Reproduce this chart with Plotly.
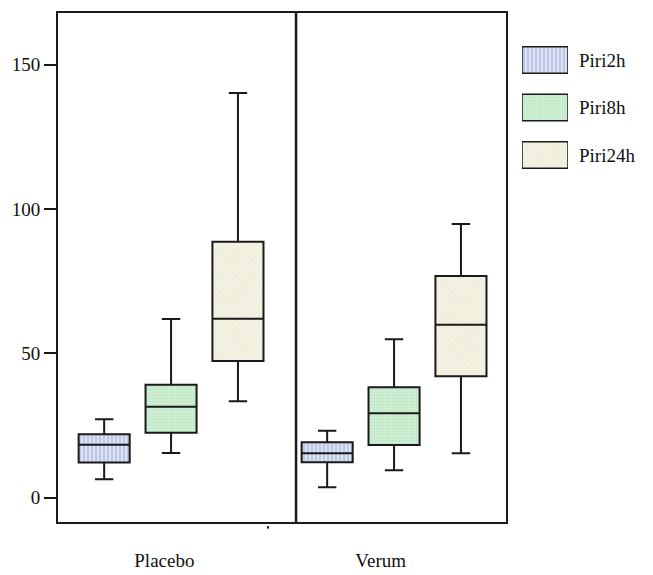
import plotly.graph_objects as go

groups = ["Placebo", "Verum"]
series = ["Piri2h", "Piri8h", "Piri24h"]

# five-number summaries per series: [Placebo, Verum]
lower = {"Piri2h": [6.4, 3.6], "Piri8h": [15.5, 9.5], "Piri24h": [33.4, 15.4]}
q1 = {"Piri2h": [12.2, 12.3], "Piri8h": [22.5, 18.3], "Piri24h": [47.4, 42.1]}
med = {"Piri2h": [18.4, 15.4], "Piri8h": [31.5, 29.3], "Piri24h": [62.0, 59.9]}
q3 = {"Piri2h": [22.0, 19.2], "Piri8h": [39.1, 38.3], "Piri24h": [88.7, 76.8]}
upper = {"Piri2h": [27.2, 23.2], "Piri8h": [61.9, 54.9], "Piri24h": [140.2, 94.8]}

y_ticks = [0, 50, 100, 150]

offsets = {"Piri2h": -0.3, "Piri8h": 0.0, "Piri24h": 0.3}
styles = {
    "Piri2h": dict(bg="#dfe4f4", fg="#9ba7d6", shape="|", size=4, solidity=0.55),
    "Piri8h": dict(bg="#d2f0d7", fg="#9ed6a8", shape=".", size=3, solidity=0.4),
    "Piri24h": dict(bg="#f4f2e3", fg="#e6e2cc", shape="/", size=4, solidity=0.3),
}
BW = 0.229
INK = "#1a1a1a"
FONT = "Liberation Serif"

fig = go.Figure()
gx = list(range(len(groups)))

for s in series:
    xs = [g + offsets[s] for g in gx]
    st = styles[s]
    fig.add_trace(go.Bar(
        x=xs, base=q1[s], y=[b - a for a, b in zip(q1[s], q3[s])], width=BW,
        marker=dict(color=st["bg"], line=dict(width=0),
                    pattern=dict(shape=st["shape"], fgcolor=st["fg"], bgcolor=st["bg"],
                                 size=st["size"], solidity=st["solidity"])),
        showlegend=False, hoverinfo="skip"))
    fig.add_trace(go.Box(
        x=xs, q1=q1[s], median=med[s], q3=q3[s],
        lowerfence=lower[s], upperfence=upper[s],
        width=BW, whiskerwidth=0.36, fillcolor="rgba(0,0,0,0)",
        line=dict(color=INK, width=2), name=s, showlegend=False, boxpoints=False))

# legend swatches drawn as bars in a small side subplot
for i, s in enumerate(series):
    st = styles[s]
    fig.add_trace(go.Bar(
        y=[i], x=[1], base=[0], orientation="h", width=0.56,
        marker=dict(color=st["bg"], line=dict(width=1.5, color=INK),
                    pattern=dict(shape=st["shape"], fgcolor=st["fg"], bgcolor=st["bg"],
                                 size=st["size"], solidity=st["solidity"])),
        xaxis="x2", yaxis="y2", showlegend=False, hoverinfo="skip"))
    fig.add_annotation(x=1.0, y=i, xref="x2", yref="y2", xanchor="left", xshift=9,
                       text=s, showarrow=False, font=dict(family=FONT, size=19, color="#111"))

W, H = 653, 575
L, R_px, T, B_px = 58, 506, 13, 522
plot_w = W - L
main_dom = (R_px - L) / plot_w

fig.update_layout(
    width=W, height=H, margin=dict(l=L, r=0, t=T, b=H - B_px, autoexpand=False),
    paper_bgcolor="white", plot_bgcolor="white", barmode="overlay",
    showlegend=False,
    xaxis=dict(domain=[0, main_dom], range=[-0.507, 1.502], showgrid=False, zeroline=False,
               showline=True, mirror=True, linecolor=INK, linewidth=2,
               tickvals=[-0.03, 0.94], ticktext=groups, ticks="", ticklabelstandoff=20,
               tickfont=dict(family=FONT, size=19, color="#111")),
    yaxis=dict(range=[-8.4, 167.9], showgrid=False, zeroline=False,
               showline=True, mirror=True, linecolor=INK, linewidth=2,
               tickvals=y_ticks, ticks="outside", ticklen=12, tickwidth=1.5, tickcolor=INK,
               tickfont=dict(family=FONT, size=19, color="#111")),
    xaxis2=dict(domain=[(522 - L) / plot_w, (568 - L) / plot_w], range=[0, 1], visible=False,
                anchor="y2", fixedrange=True),
    yaxis2=dict(domain=[(B_px - 178.75) / (B_px - T), (B_px - 36.25) / (B_px - T)],
                range=[2.5, -0.5], visible=False, anchor="x2", fixedrange=True),
)

# divider between the two groups and the small axis mark
fig.add_shape(type="line", xref="x", yref="paper", x0=0.5605, x1=0.5605, y0=0, y1=1,
              line=dict(color=INK, width=2.5))
fig.add_shape(type="line", xref="x", yref="paper", x0=0.435, x1=0.435, y0=-0.008, y1=-0.013,
              line=dict(color=INK, width=2))

fig.write_html("out.html", config={"displayModeBar": False},
               post_script="document.body.style.margin='0';document.body.style.overflow='hidden';")
